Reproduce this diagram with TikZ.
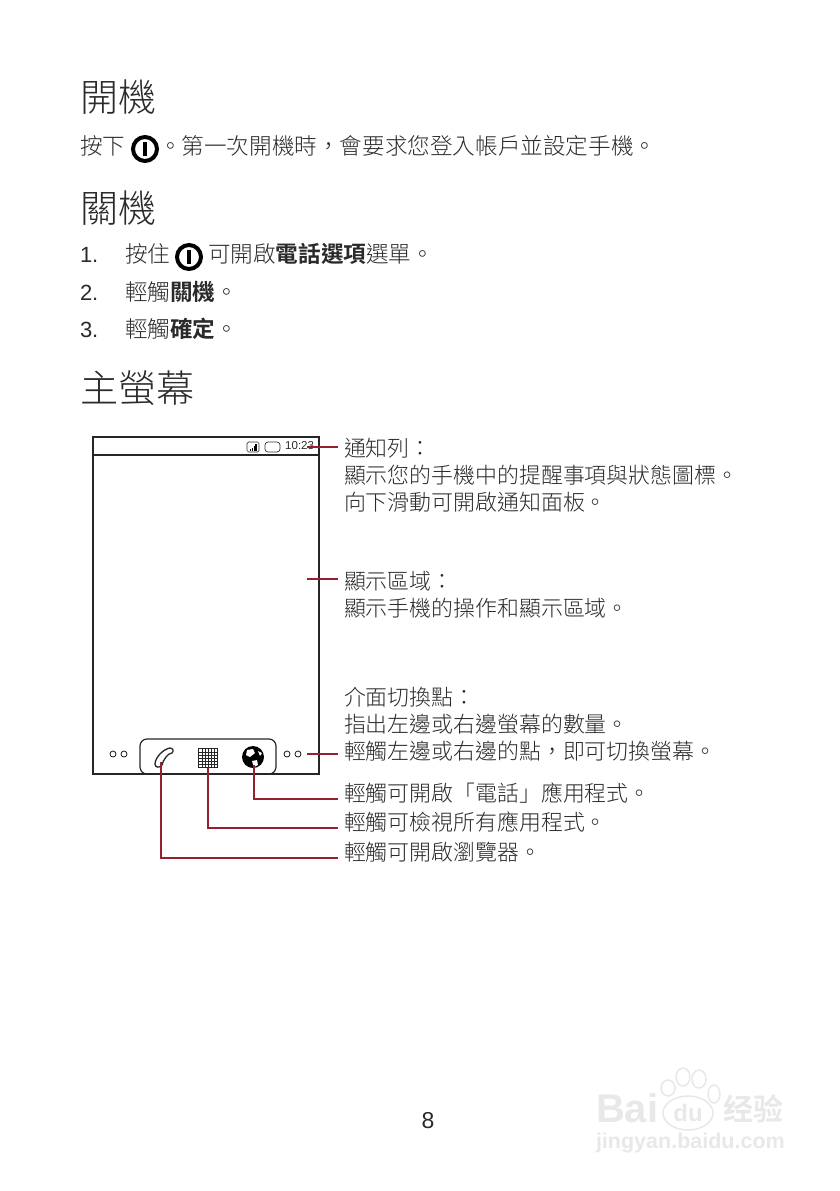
\documentclass[tikz,border=0pt]{standalone}
\usepackage{fontspec}
\setmainfont{Noto Sans CJK TC Light}[BoldFont={Noto Sans CJK TC Bold}]
\newfontfamily\latinfont{Liberation Sans}
\definecolor{leadred}{HTML}{96202F}
\definecolor{inkgray}{HTML}{2A2A2A}
\definecolor{markgray}{HTML}{E8E8E8}
\usetikzlibrary{positioning}

\begin{document}
\begin{tikzpicture}[x=1pt,y=-1pt,
      every node/.style={inner sep=0pt,outer sep=0pt,text=inkgray},
      heading/.style={anchor=west,font=\fontsize{38}{38}\selectfont},
      body/.style={anchor=west,font=\fontsize{22.6}{27}\selectfont},
      callout/.style={anchor=west,align=left,font=\fontsize{21.9}{27}\selectfont},
      numeral/.style={anchor=west,font=\latinfont\fontsize{22}{22}\selectfont},
      powerkey/.style={draw=black,circle,line width=4pt,minimum width=24pt,path picture={
        \fill[black] (path picture bounding box.center) ++(-2,-7) rectangle ++(4,14);}},
      lead/.style={draw=leadred,line width=2.8pt},
      dot/.style={draw=black,circle,line width=0.7pt,minimum width=6pt},
      pad/.style={draw=markgray,fill=white,line width=1.5pt},
      mark/.style={text=markgray,font=\bfseries\fontsize{#1}{#1}\selectfont}]
  \useasboundingbox (0,0) rectangle (839,1191);

  % page text
  \node[heading] (openhead) at (80,97) {開機};
  \node[body] (press) at (80,146) {按下};
  \node[powerkey] (powerone) at (145,149) {};
  \node[body] (presstext) at (159,146) {。第一次開機時，會要求您登入帳戶並設定手機。};
  \node[heading] (closehead) at (80,208) {關機};
  \node[numeral] (numone) at (80,255) {1.};
  \node[body] (holdkey) at (125,254) {按住};
  \node[powerkey] (powertwo) at (189,257) {};
  \node[body] (holdtext) at (208,254) {可開啟\textbf{電話選項}選單。};
  \node[numeral] (numtwo) at (80,293) {2.};
  \node[body] (steptwo) at (125,292) {輕觸\textbf{關機}。};
  \node[numeral] (numthree) at (80,330) {3.};
  \node[body] (stepthree) at (125,329) {輕觸\textbf{確定}。};
  \node[heading] (homehead) at (80,388) {主螢幕};

  % phone
  \node[draw=black!85,line width=2.6pt,minimum width=226pt,minimum height=337pt,anchor=north west]
    (phone) at (93,437) {};
  \node[draw=black!85,line width=2.4pt,minimum width=226pt,minimum height=18pt,anchor=north west]
    (statusbar) at (93,437) {};
  \node[anchor=east,font=\latinfont\fontsize{11.5}{11.5}\selectfont] (clock) at (314,446) {10:23};
  \node[draw=black!80,rounded corners=3pt,line width=0.7pt,minimum width=15pt,minimum height=10pt]
    (battery) at (272.5,447) {};
  \node[draw=black!80,rounded corners=1.5pt,line width=0.7pt,minimum width=12pt,minimum height=10pt]
    (signal) at (253,447) {};
  \foreach \h [count=\i] in {2,3,5,7}
    \fill[black] (248.5+1.7*\i,451) rectangle ++(1.2,-\h);
  \node[draw=black!85,rounded corners=7pt,line width=1.2pt,minimum width=136pt,minimum height=35pt,anchor=north west]
    (tray) at (140,739) {};
  \foreach \x/\name in {113/dotA,124/dotB,287/dotC,298/dotD}
    \node[dot] (\name) at (\x,754) {};

  % tray icons
  \coordinate (phoneicon) at (161,762);
  \draw[black!85,line width=1.3pt,line join=round]
    (155,764) .. controls (155,758) and (163,749) .. (170,748)
    .. controls (173,748) and (174,751) .. (172,753)
    .. controls (168,753) and (163,760) .. (162,765)
    .. controls (160,768) and (155,768) .. (155,764) -- cycle;
  \node[draw=black!85,line width=0.8pt,minimum width=19pt,minimum height=19pt,
    path picture={\foreach \g in {-6,-3,0,3,6} {
      \draw[black!85,line width=0.8pt] (path picture bounding box.center) ++(\g,-10) -- ++(0,20);
      \draw[black!85,line width=0.8pt] (path picture bounding box.center) ++(-10,\g) -- ++(20,0);}}]
    (gridicon) at (208,758) {};
  \node[fill=black,circle,minimum width=22pt] (globe) at (253,757) {};
  \fill[white] (247,750) -- (253,749) -- (255,753) -- (250,757) -- (246,755) -- cycle;
  \fill[white] (252,761) -- (257,760) -- (258,765) -- (254,767) -- cycle;
  \fill[white] (258,751) -- (262,753) -- (260,756) -- cycle;

  % callouts
  \node[callout] (notify) at (344,475.5) {通知列：\\顯示您的手機中的提醒事項與狀態圖標。\\向下滑動可開啟通知面板。};
  \node[callout] (display) at (344,595) {顯示區域：\\顯示手機的操作和顯示區域。};
  \node[callout] (switch) at (344,724) {介面切換點：\\指出左邊或右邊螢幕的數量。\\輕觸左邊或右邊的點，即可切換螢幕。};
  \node[callout] (dial) at (344,793) {輕觸可開啟「電話」應用程式。};
  \node[callout] (apps) at (344,822) {輕觸可檢視所有應用程式。};
  \node[callout] (browser) at (344,852) {輕觸可開啟瀏覽器。};

  % leaders
  \coordinate (notifyend) at (338,447);
  \coordinate (displayend) at (338,579);
  \coordinate (switchend) at (338,754);
  \coordinate (dialend) at (338,799);
  \coordinate (appsend) at (338,828);
  \coordinate (browserend) at (338,858);
  \coordinate (displayarea) at (307,579);
  \draw[lead] (clock.east) ++(-7,1) -- (notifyend);
  \draw[lead] (displayarea) -- (displayend);
  \draw[lead] (dotD.east) ++(6,0) -- (switchend);
  \draw[lead] (globe.center) ++(1,8) |- (dialend);
  \draw[lead] (gridicon.south) |- (appsend);
  \draw[lead] (phoneicon) |- (browserend);

  % page number
  \node[font=\latinfont\fontsize{23}{23}\selectfont] (pagenum) at (428,1121) {8};

  % watermark
  \foreach \x/\y/\w/\h in {668/1088/7/8,683/1077/7/9,699/1079/7/9,714/1094/6/9}
    \path[pad] (\x,\y) ellipse (\w pt and \h pt);
  \path[pad] (688,1113) ellipse (25pt and 17pt);
  \node[mark=40,anchor=west] (markbai) at (596,1108) {\latinfont Bai};
  \node[mark=24] (markdu) at (688,1113) {\latinfont du};
  \node[mark=30,anchor=west] (markjy) at (723,1109) {经验};
  \node[mark=21.5,anchor=west] (markurl) at (596,1143) {\latinfont jingyan.baidu.com};
\end{tikzpicture}
\end{document}
